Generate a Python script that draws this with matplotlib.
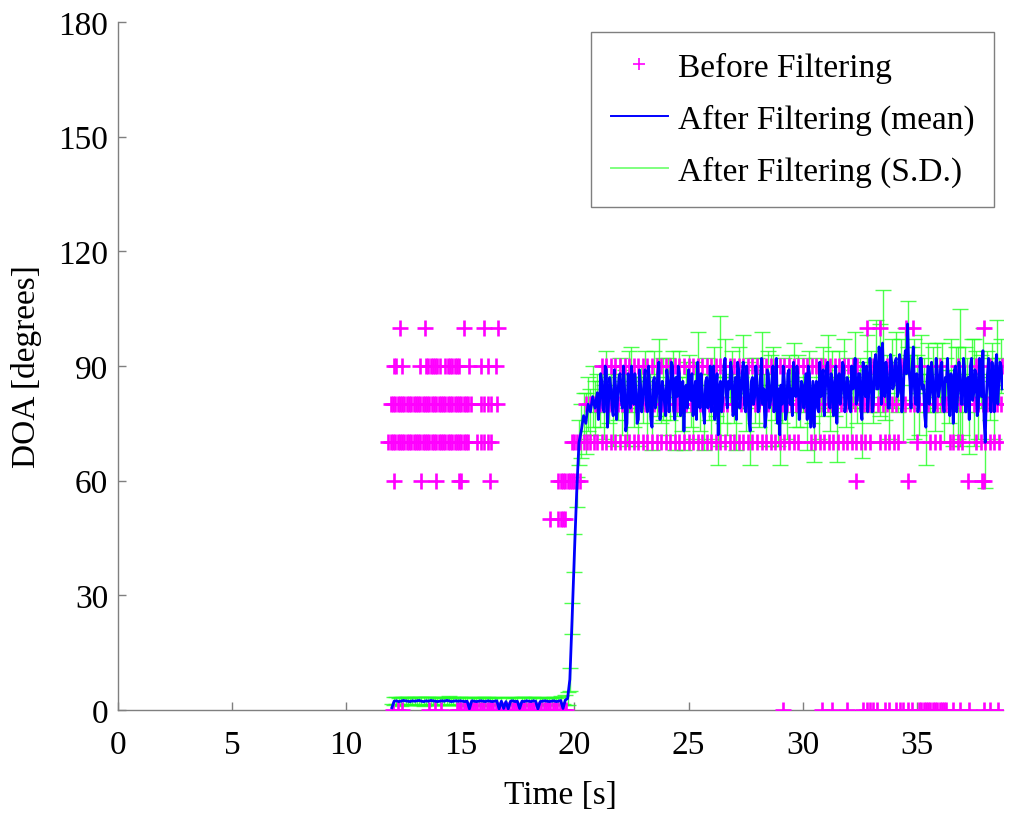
import numpy as np
import matplotlib
matplotlib.use("Agg")
import matplotlib.pyplot as plt
from matplotlib.lines import Line2D

plt.rcParams['font.family'] = ['Liberation Serif', 'DejaVu Serif']

# ---------------- data ----------------
# filtered estimate: samples every 0.1 s from 12.0 s (mean + S.D.),
# and extra mean samples half-way between them after 21.0 s
t_start, t_step = 12.0, 0.1

mean_low = [0.6,
            2.3, 2.4, 2.2, 2.3, 2.5, 2.4, 2.3, 2.2, 2.4,
            2.3, 2.4, 2.5, 2.3, 2.2, 2.4, 2.3, 2.5, 2.4, 2.3,
            2.2, 2.3, 2.4, 2.3, 2.5, 2.4, 2.2, 2.3, 2.4, 2.3,
            2.4, 2.3, 2.2, 2.3, 0.3, 2.4, 2.3, 2.2, 2.3, 2.4,
            2.3, 2.2, 2.4, 2.3, 2.2, 2.3, 2.4, 0.3, 2.3, 0.4,
            2.2, 0.3, 2.3, 2.4, 2.2, 2.3, 0.4, 2.3, 2.2, 2.4,
            2.3, 2.2, 2.4, 2.3, 0.3, 2.2, 2.3, 2.4, 2.3, 2.2,
            2.3, 2.4, 2.2, 2.3, 2.5, 0.4, 2.6, 3.0]
mean_rise = [8, 24, 41, 57, 70, 73, 77, 75, 80, 78, 82, 79]
mean_high = [83, 80, 86, 78, 89, 81, 84, 77, 85, 82,
             88, 79, 84, 75, 86, 90, 80, 83, 76, 85,
             81, 89, 78, 84, 74, 87, 82, 91, 79, 84,
             77, 86, 83, 90, 76, 82, 88, 80, 73, 85,
             89, 81, 77, 86, 91, 79, 84, 75, 87, 82,
             78, 90, 83, 72, 86, 81, 92, 79, 84, 88,
             80, 76, 89, 83, 91, 78, 85, 73, 87, 82,
             86, 79, 92, 84, 77, 88, 81, 90, 83, 75,
             72, 80, 86, 78, 89, 84, 91, 82, 87, 79,
             85, 83, 76, 88, 80, 74, 86, 78, 82, 89,
             84, 91, 79, 86, 82, 75, 88, 83, 90, 80,
             86, 78, 84, 92, 81, 88, 76, 85, 90, 83,
             87, 80, 93, 84, 89, 96, 82, 88, 79, 91,
             85, 92, 83, 89, 81, 94, 101, 86, 90, 84,
             88, 80, 92, 85, 74, 90, 83, 87, 79, 89,
             84, 91, 78, 86, 82, 88, 75, 90, 83, 87,
             80, 89, 85, 76, 92, 83, 88, 79, 86, 94,
             70, 88, 84, 91, 78, 93, 86, 90]
# mean samples at 21.05, 21.15, ... 38.75 s
mean_high_mid = [76, 88, 79, 90, 74, 87, 79, 89, 76, 87,
                 81, 90, 73, 88, 79, 84, 88, 75, 89, 78,
                 86, 80, 90, 76, 86, 79, 88, 76, 86, 80,
                 89, 78, 91, 79, 87, 90, 77, 86, 84, 79,
                 83, 88, 82, 76, 84, 88, 78, 86, 79, 90,
                 85, 76, 88, 84, 78, 90, 83, 86, 91, 77,
                 87, 91, 79, 88, 80, 90, 76, 86, 80, 90,
                 78, 87, 80, 74, 89, 79, 86, 78, 92, 84,
                 85, 90, 76, 88, 80, 77, 83, 90, 76, 86,
                 79, 88, 90, 74, 86, 84, 79, 91, 87, 77,
                 90, 80, 88, 77, 90, 86, 80, 91, 78, 87,
                 79, 90, 87, 80, 88, 79, 91, 82, 78, 92,
                 78, 91, 84, 95, 80, 85, 91, 79, 93, 84,
                 91, 82, 93, 78, 90, 88, 90, 79, 95, 80,
                 78, 92, 84, 77, 86, 80, 91, 78, 92, 82,
                 90, 80, 87, 92, 77, 85, 89, 78, 91, 80,
                 92, 78, 87, 90, 81, 89, 77, 92, 82, 76,
                 82, 92, 78, 86, 90, 80, 91, 84]

sd_low = [1.0, 1.1, 0.9, 1.0, 1.2, 1.0, 0.9, 1.1, 1.0, 1.0,
          1.1, 1.0, 0.9, 1.0, 1.2, 1.0, 1.1, 0.9, 1.0, 1.0,
          1.0, 1.1, 1.0, 0.9, 1.0, 1.2, 1.0, 1.1, 1.0, 0.9,
          1.0, 1.0, 1.1, 1.0, 1.3, 1.0, 0.9, 1.0, 1.1, 1.0,
          1.0, 1.1, 1.0, 0.9, 1.0, 1.0, 1.1, 1.3, 1.0, 1.2,
          1.0, 1.3, 1.0, 1.1, 0.9, 1.0, 1.2, 1.0, 1.1, 1.0,
          1.0, 0.9, 1.1, 1.0, 1.3, 1.0, 1.1, 1.0, 0.9, 1.0,
          1.1, 1.0, 1.0, 1.1, 1.2, 1.3, 1.4, 1.8]
sd_rise = [3, 4, 5, 4, 6, 7, 6, 8, 7, 6, 8, 7]
sd_high = [5, 6, 4, 7, 5, 6, 4, 8, 5, 6,
           4, 7, 5, 6, 8, 5, 6, 4, 7, 5,
           6, 5, 8, 4, 6, 7, 5, 6, 4, 8,
           5, 6, 7, 4, 8, 5, 6, 7, 5, 6,
           4, 7, 6, 5, 8, 6, 4, 7, 5, 6,
           7, 5, 6, 8, 17, 6, 5, 7, 4, 6,
           5, 8, 6, 4, 7, 5, 6, 9, 5, 7,
           6, 5, 7, 4, 8, 6, 12, 5, 7, 6,
           8, 5, 6, 7, 4, 6, 5, 8, 6, 5,
           7, 4, 8, 6, 5, 9, 6, 7, 5, 6,
           5, 7, 6, 8, 5, 10, 6, 4, 7, 6,
           6, 8, 5, 7, 6, 4, 10, 6, 8, 5,
           7, 5, 9, 6, 12, 14, 6, 5, 8, 6,
           6, 7, 5, 8, 11, 6, 6, 7, 5, 13,
           5, 8, 6, 7, 10, 6, 5, 8, 6, 7,
           6, 5, 8, 6, 7, 9, 6, 5, 12, 18,
           8, 6, 7, 9, 5, 14, 6, 8, 7, 6,
           12, 6, 8, 5, 7, 9, 6, 7]

# raw (unfiltered) DOA detections: times [s] for each detected angle
raw_times_100 = [12.35, 13.45, 15.15, 16.05, 16.65, 32.8, 33.4, 34.55, 34.85, 37.95]
raw_times_90 = [12.1, 12.2, 12.45, 13.25, 13.5, 13.6, 13.7, 13.8, 13.9, 14.0, 14.1,
                14.35, 14.45, 14.55, 14.65, 14.75, 14.85, 14.95, 15.4, 15.9, 16.2, 16.55,
                21.2, 21.4, 21.6, 21.8, 22.0, 22.2, 22.4, 22.6, 22.8, 23.0, 23.2, 23.4,
                23.6, 23.8, 24.0, 24.2, 24.4, 24.6, 24.8, 25.0, 25.2, 25.4, 25.6, 25.8,
                26.0, 26.2, 26.4, 26.6, 26.8, 27.0, 27.2, 27.4, 27.6, 27.8, 28.0, 28.2,
                28.4, 28.6, 28.8, 29.0, 29.2, 29.4, 29.6, 29.8, 30.0, 30.2, 30.4, 30.6,
                30.8, 31.0, 31.2, 31.4, 31.6, 31.8, 32.0, 32.2, 32.4,
                33.1, 33.7, 34.3, 35.2, 36.0, 36.8, 37.6, 38.2, 38.75]
raw_times_80 = [11.95, 12.05, 12.15, 12.25, 12.35, 12.45, 12.55, 12.65, 12.75, 12.85,
                12.95, 13.05, 13.15, 13.25, 13.35, 13.45, 13.55, 13.65, 13.75, 13.85,
                13.95, 14.05, 14.15, 14.25, 14.35, 14.45, 14.55, 14.65, 14.75, 14.85,
                14.95, 15.05, 15.15, 15.25, 15.35, 15.45,
                15.9, 16.05, 16.2, 16.35, 16.6,
                20.5, 20.7,
                20.9, 21.1, 21.3, 21.5, 21.7, 21.9, 22.1, 22.3, 22.5, 22.7, 22.9, 23.1,
                23.3, 23.5, 23.7, 23.9, 24.1, 24.3, 24.5, 24.7, 24.9, 25.1, 25.3, 25.5,
                25.7, 25.9, 26.1, 26.3, 26.5, 26.7, 26.9, 27.1, 27.3, 27.5, 27.7, 27.9,
                28.1, 28.3, 28.5, 28.7, 28.9, 29.1, 29.3, 29.5, 29.7, 29.9, 30.1, 30.3,
                30.5, 30.7, 30.9, 31.1, 31.3, 31.5, 31.7, 31.9, 32.1, 32.3, 32.5, 32.7,
                32.9, 33.1, 33.3, 33.5, 33.7, 33.9, 34.1, 34.3, 34.5, 34.7, 34.9, 35.1,
                35.3, 35.5, 35.7, 35.9, 36.1, 36.3, 36.5, 36.7, 36.9, 37.1, 37.3, 37.5,
                37.7, 37.9, 38.1, 38.3, 38.5, 38.7]
raw_times_70 = [11.85, 11.95, 12.05, 12.15, 12.25, 12.35, 12.45, 12.55, 12.65, 12.75,
                12.85, 12.95, 13.05, 13.15, 13.25, 13.35, 13.45, 13.55, 13.65, 13.75,
                13.85, 13.95, 14.05, 14.15, 14.25, 14.35, 14.45, 14.55, 14.65, 14.75,
                14.85, 14.95, 15.05, 15.15, 15.25, 15.35,
                15.75, 15.9, 16.05, 16.2, 16.35,
                19.9, 20.0, 20.1, 20.25, 20.4, 20.55, 20.7, 20.85,
                21.0, 21.2, 21.4, 21.6, 21.8, 22.0, 22.2, 22.4, 22.6, 22.8, 23.0, 23.2,
                23.4, 23.6, 23.8, 24.0, 24.2, 24.4, 24.6, 24.8, 25.0, 25.2, 25.4, 25.6,
                25.8, 26.0, 26.2, 26.4, 26.6, 26.8, 27.0, 27.2, 27.4, 27.6, 27.8, 28.0,
                28.2, 28.4, 28.6, 28.8, 29.0, 29.2, 29.4, 29.6, 29.8,
                30.35, 30.55, 30.75, 30.95, 31.15, 31.35, 31.55, 31.75, 31.95, 32.15,
                32.35, 32.55, 32.75, 32.95,
                33.4, 33.6, 33.8, 34.0, 34.2, 35.0, 35.6, 35.8, 36.0, 36.45, 36.6,
                36.8, 37.0, 37.6, 37.8, 38.0, 38.2, 38.4, 38.6]
raw_times_60 = [12.1, 13.3, 13.95, 14.95, 15.05, 16.3,
                19.3, 19.4, 19.5, 19.6, 19.7, 19.8, 19.9, 20.0, 20.1, 20.25,
                32.35, 34.6, 37.25, 37.85, 37.95]
raw_times_50 = [18.95, 19.3, 19.4, 19.5, 19.6]
raw_times_0 = [12.05, 12.25, 12.45, 13.65, 13.9, 14.15,
               14.85, 14.95, 15.05, 15.15, 15.25, 15.35, 15.45, 15.55, 15.65, 15.75,
               15.85, 15.95, 16.05, 16.15, 16.25, 16.35, 16.45, 16.55, 16.65, 16.75,
               16.85, 16.95, 17.05, 17.15, 17.25, 17.35, 17.45, 17.55, 17.65, 17.75,
               17.85, 17.95, 18.05, 18.15, 18.25, 18.35, 18.45, 18.55, 18.65, 18.75,
               18.85, 18.95, 19.05, 19.15, 19.25, 19.35, 19.45, 19.55, 19.65,
               29.15, 30.85, 31.3, 31.95, 32.65, 32.8, 32.95, 33.1, 33.25, 33.6, 33.8,
               34.1, 34.25, 34.4, 34.6, 34.8,
               35.1, 35.2, 35.3, 35.4, 35.5, 35.6, 35.7, 35.8, 35.9, 36.0, 36.1, 36.2, 36.3,
               36.6, 36.9, 37.3, 37.95, 38.2, 38.55]

raw_levels = {100: raw_times_100, 90: raw_times_90, 80: raw_times_80,
              70: raw_times_70, 60: raw_times_60, 50: raw_times_50, 0: raw_times_0}

x_ticks = [0, 5, 10, 15, 20, 25, 30, 35]
y_ticks = [0, 30, 60, 90, 120, 150, 180]

# ---------------- build ----------------
mean_vals = np.array(mean_low + mean_rise + mean_high, dtype=float)
sd_vals = np.array(sd_low + sd_rise + sd_high, dtype=float)
t_filt = np.round(t_start + t_step * np.arange(len(mean_vals)), 2)

# full mean trace: 0.1 s grid plus the half-step samples after 21 s
n_pre = len(mean_low) + len(mean_rise)
t_mid = t_filt[n_pre:n_pre + len(mean_high_mid)] + t_step / 2
t_line = np.concatenate([t_filt, t_mid])
y_line = np.concatenate([mean_vals, np.array(mean_high_mid, dtype=float)])
order = np.argsort(t_line, kind='stable')
t_line, y_line = t_line[order], y_line[order]

raw_t = np.concatenate([np.array(v, dtype=float) for v in raw_levels.values()])
raw_y = np.concatenate([np.full(len(v), float(k)) for k, v in raw_levels.items()])

fig = plt.figure(figsize=(10.24, 8.28), dpi=100)
ax = fig.add_axes([0.1152, 0.1413, 0.8643, 0.8309])

MAG = '#ff00ff'
BLUE = '#0000ff'
GREEN = '#22ff22'

ax.errorbar(t_filt, mean_vals, yerr=sd_vals, fmt='none', ecolor=GREEN,
            elinewidth=1.0, capsize=6, capthick=1.0, alpha=0.8, zorder=2)
ax.plot(raw_t, raw_y, linestyle='none', marker='+', color=MAG,
        markersize=11, markeredgewidth=1.9, zorder=3)
ax.plot(t_line, y_line, color=BLUE, linewidth=2.0, zorder=4)

ax.set_xlim(0, 38.78)
ax.set_ylim(0, 180)
ax.set_xticks(x_ticks)
ax.set_yticks(y_ticks)

for s in ['top', 'right']:
    ax.spines[s].set_visible(False)
for s in ['left', 'bottom']:
    ax.spines[s].set_color('#7f7f7f')
    ax.spines[s].set_linewidth(1.0)
ax.tick_params(direction='in', length=6, width=1.0, color='#7f7f7f',
               labelsize=24, labelcolor='black')
ax.tick_params(axis='x', pad=14)
ax.tick_params(axis='y', pad=7)

ax.set_xlabel('Time [s]', fontsize=24, labelpad=14)
ax.set_ylabel('DOA [degrees]', fontsize=24, labelpad=12)

handles = [Line2D([], [], linestyle='none', marker='+', color=MAG, markersize=9,
                  markeredgewidth=1.2),
           Line2D([], [], color=BLUE, linewidth=1.4),
           Line2D([], [], color='#7fff7f', linewidth=1.4)]
labels = ['Before Filtering', 'After Filtering (mean)', 'After Filtering (S.D.)']
leg = ax.legend(handles, labels, loc='upper right', bbox_to_anchor=(0.99, 0.986),
                borderaxespad=0, fontsize=24, frameon=True, fancybox=False,
                edgecolor='#7f7f7f', framealpha=1, handlelength=1.7,
                handletextpad=0.3, labelspacing=0.62, borderpad=0.6)
leg.get_frame().set_linewidth(1.0)

fig.savefig('out.png', dpi=100)
